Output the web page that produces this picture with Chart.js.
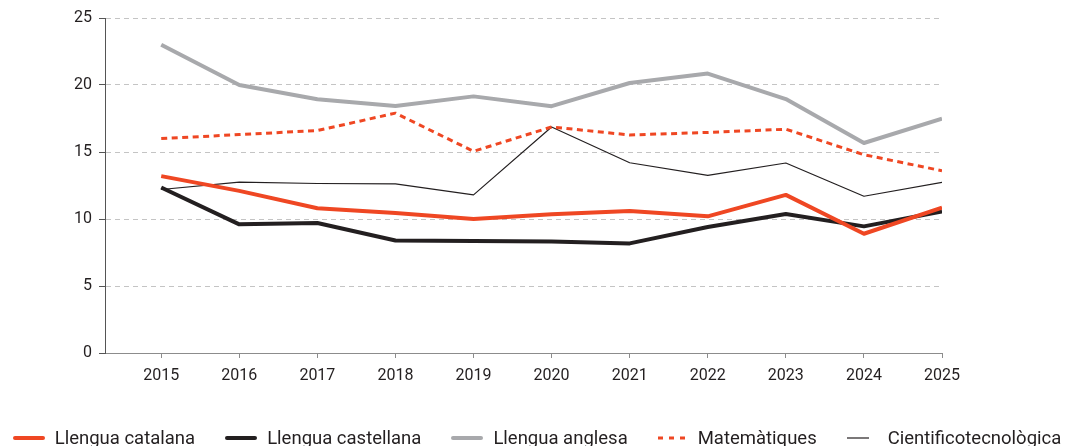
<!DOCTYPE html>
<html>
<head>
<meta charset="utf-8">
<script src="https://cdn.jsdelivr.net/npm/chart.js@4/dist/chart.umd.min.js"></script>
<style>
  html, body { margin: 0; padding: 0; background: #fff; }
  #wrap { position: relative; width: 1074px; height: 446px; }
  #legend {
    position: absolute; left: 0; top: 425px; width: 1074px; height: 26px;
    display: flex; justify-content: center; align-items: center;
    font-family: Roboto, sans-serif; font-size: 18.5px; color: #231f20; white-space: nowrap;
  }
  #legend .item { display: flex; align-items: center; margin: 0 15px; }
  #legend svg { margin-right: 10px; }
</style>
</head>
<body>
<div id="wrap"><canvas id="chart"></canvas><div id="legend"></div></div>
<script>
// years on the x axis
var years = [2015, 2016, 2017, 2018, 2019, 2020, 2021, 2022, 2023, 2024, 2025];

// series values
var catalana   = [13.2, 12.1, 10.8, 10.45, 10.0, 10.35, 10.6, 10.2, 11.8, 8.9, 10.85];
var castellana = [12.35, 9.6, 9.7, 8.4, 8.35, 8.33, 8.18, 9.4, 10.37, 9.45, 10.57];
var anglesa    = [23.0, 20.0, 18.93, 18.43, 19.15, 18.42, 20.15, 20.85, 18.95, 15.67, 17.48];
var matematiques = [16.0, 16.3, 16.6, 17.9, 15.05, 16.87, 16.27, 16.46, 16.7, 14.8, 13.6];
var cientifico = [12.2, 12.75, 12.65, 12.62, 11.8, 16.87, 14.2, 13.25, 14.18, 11.7, 12.73];

var yTicks = [0, 5, 10, 15, 20, 25];

var red = '#ef4723';
var black = '#231f20';
var grey = '#a8a9ac';
var ctx = document.getElementById('chart');

function pts(vals) {
    return vals.map(function (v, i) { return { x: years[i], y: v }; });
}

var chart = new Chart(ctx, {
    type: 'line',
    data: {
        datasets: [
            { label: 'Llengua catalana', data: pts(catalana), borderColor: red, backgroundColor: red, borderWidth: 4 },
            { label: 'Llengua castellana', data: pts(castellana), borderColor: black, backgroundColor: black, borderWidth: 4 },
            { label: 'Llengua anglesa', data: pts(anglesa), borderColor: grey, backgroundColor: grey, borderWidth: 4 },
            { label: 'Matemàtiques', data: pts(matematiques), borderColor: red, backgroundColor: red, borderWidth: 3, borderDash: [6, 4.5] },
            { label: 'Cientificotecnològica', data: pts(cientifico), borderColor: black, backgroundColor: black, borderWidth: 1.2 }
        ]
    },
    options: {
        responsive: true,
        maintainAspectRatio: false,
        animation: false,
        layout: { padding: { top: 18, right: 132, left: 0, bottom: 49 } },
        elements: {
            point: { radius: 0, hoverRadius: 0 },
            line: { tension: 0, borderJoinStyle: 'round' }
        },
        scales: {
            x: {
                type: 'linear',
                min: 2014.28,
                max: 2025,
                afterBuildTicks: function (s) {
                    s.ticks = years.map(function (y) { return { value: y }; });
                },
                afterFit: function (s) { s.height = 44; },
                ticks: {
                    color: black,
                    font: { family: 'Roboto', size: 16 },
                    padding: 8,
                    callback: function (v) { return String(v); }
                },
                grid: { drawOnChartArea: false, tickLength: 5, color: '#8c8c8c', tickColor: '#8c8c8c' },
                border: { color: '#8c8c8c', width: 1 }
            },
            y: {
                min: 0,
                max: 25,
                afterBuildTicks: function (s) {
                    s.ticks = yTicks.map(function (v) { return { value: v }; });
                },
                afterFit: function (s) { s.width = 105; },
                ticks: {
                    color: black,
                    font: { family: 'Roboto', size: 16 },
                    padding: 7
                },
                grid: { color: '#c4c4c4', tickLength: 6, tickColor: '#555', lineWidth: 1 },
                border: { color: '#555', width: 1, dash: [5, 4] }
            }
        },
        plugins: {
            tooltip: { enabled: false },
            legend: { display: false }
        }
    }
});

// legend row under the chart, built from the datasets
var legendEl = document.getElementById('legend');
chart.data.datasets.forEach(function (d) {
    var thin = d.borderWidth < 2;
    var w = thin ? 22 : 32;
    var dash = d.borderDash ? ' stroke-dasharray="5 6"' : '';
    var cap = d.borderDash || thin ? 'butt' : 'round';
    var item = document.createElement('span');
    item.className = 'item';
    item.innerHTML = '<svg width="' + w + '" height="8" style="margin-right:' + (thin ? 19 : (d.borderDash ? 8 : 10)) + 'px">' +
        '<line x1="' + (cap === 'round' ? 2 : 0) + '" y1="4" x2="' + (cap === 'round' ? w - 2 : w) + '" y2="4" stroke="' + d.borderColor +
        '" stroke-width="' + d.borderWidth + '" stroke-linecap="' + cap + '"' + dash + '/></svg>' +
        '<span>' + d.label + '</span>';
    legendEl.appendChild(item);
});
</script>
</body>
</html>
